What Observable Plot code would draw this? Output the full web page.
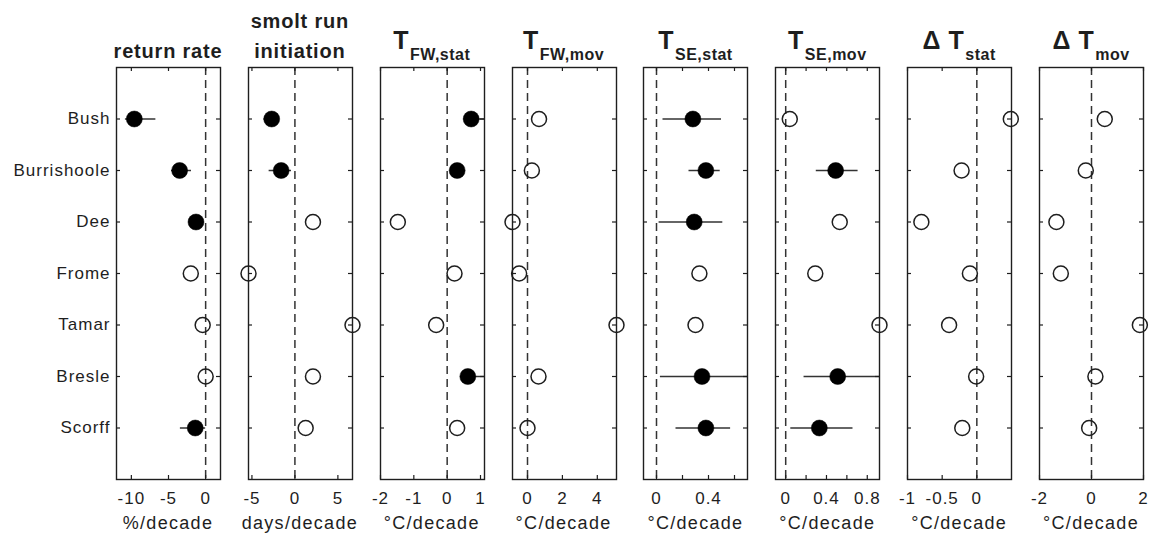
<!DOCTYPE html>
<html>
<head>
<meta charset="utf-8">
<script src="https://cdn.jsdelivr.net/npm/d3@7"></script>
<script src="https://cdn.jsdelivr.net/npm/@observablehq/plot@0.6"></script>
<style>
  html, body { margin: 0; padding: 0; background: #fff; }
  #wrap { position: relative; width: 1151px; height: 534px; overflow: hidden; }
  #wrap > svg { position: absolute; top: 0; }
</style>
</head>
<body>
<div id="wrap"></div>
<script>
// ---- data ----
const rivers = ["Bush", "Burrishoole", "Dee", "Frome", "Tamar", "Bresle", "Scorff"];

const returnRate    = [-9.6, -3.5, -1.3, -2.0, -0.4, 0.0, -1.4];
const returnRateSig = [1, 1, 1, 0, 0, 0, 1];
const returnRateLo  = [-10.8, -4.6, -1.8, null, null, null, -3.4];
const returnRateHi  = [-6.7, -1.9, -0.9, null, null, null, 0.0];

const smoltRun    = [-2.7, -1.6, 2.1, -5.4, 6.7, 2.1, 1.25];
const smoltRunSig = [1, 1, 0, 0, 0, 0, 0];
const smoltRunLo  = [-3.6, -3.0, null, null, null, null, null];
const smoltRunHi  = [-1.8, -0.4, null, null, null, null, null];

const tfwStat    = [0.72, 0.30, -1.48, 0.22, -0.33, 0.62, 0.30];
const tfwStatSig = [1, 1, 0, 0, 0, 1, 0];
const tfwStatLo  = [0.50, 0.18, null, null, null, 0.45, null];
const tfwStatHi  = [1.12, 0.42, null, null, null, 1.12, null];

const tfwMov    = [0.66, 0.25, -0.86, -0.48, 5.1, 0.63, 0.0];
const tfwMovSig = [0, 0, 0, 0, 0, 0, 0];

const tseStat    = [0.28, 0.38, 0.29, 0.33, 0.30, 0.35, 0.38];
const tseStatSig = [1, 1, 1, 0, 0, 1, 1];
const tseStatLo  = [0.05, 0.25, 0.02, null, null, 0.03, 0.15];
const tseStatHi  = [0.50, 0.49, 0.51, null, null, 0.70, 0.57];

const tseMov    = [0.04, 0.49, 0.53, 0.29, 0.92, 0.51, 0.33];
const tseMovSig = [0, 1, 0, 0, 0, 1, 1];
const tseMovLo  = [null, 0.30, null, null, null, 0.18, 0.05];
const tseMovHi  = [null, 0.71, null, null, null, 0.92, 0.66];

const dtStat    = [0.49, -0.22, -0.80, -0.10, -0.40, -0.01, -0.21];
const dtStatSig = [0, 0, 0, 0, 0, 0, 0];

const dtMov    = [0.51, -0.22, -1.35, -1.18, 1.86, 0.15, -0.09];
const dtMovSig = [0, 0, 0, 0, 0, 0, 0];

// panel definitions (titles, units, domains, ticks)
const panels = [
  {title: [["return rate"]], unit: "%/decade", v: returnRate, sig: returnRateSig, lo: returnRateLo, hi: returnRateHi,
   domain: [-12, 2], ticks: [-10, -5, 0], labels: [-10, -5, 0]},
  {title: [["smolt run"], ["initiation"]], unit: "days/decade", v: smoltRun, sig: smoltRunSig, lo: smoltRunLo, hi: smoltRunHi,
   domain: [-5.4, 6.7], ticks: [-5, 0, 5], labels: [-5, 0, 5]},
  {title: "T|FW,stat", unit: "°C/decade", v: tfwStat, sig: tfwStatSig, lo: tfwStatLo, hi: tfwStatHi,
   domain: [-2, 1.12], ticks: [-2, -1, 0, 1], labels: [-2, -1, 0, 1]},
  {title: "T|FW,mov", unit: "°C/decade", v: tfwMov, sig: tfwMovSig,
   domain: [-0.86, 5.1], ticks: [0, 2, 4], labels: [0, 2, 4]},
  {title: "T|SE,stat", unit: "°C/decade", v: tseStat, sig: tseStatSig, lo: tseStatLo, hi: tseStatHi,
   domain: [-0.1, 0.7], ticks: [0, 0.2, 0.4, 0.6], labels: [0, 0.4]},
  {title: "T|SE,mov", unit: "°C/decade", v: tseMov, sig: tseMovSig, lo: tseMovLo, hi: tseMovHi,
   domain: [-0.1, 0.92], ticks: [0, 0.2, 0.4, 0.6, 0.8], labels: [0, 0.4, 0.8]},
  {title: "Δ T|stat", unit: "°C/decade", v: dtStat, sig: dtStatSig,
   domain: [-1, 0.5], ticks: [-1, -0.5, 0], labels: [-1, -0.5, 0]},
  {title: "Δ T|mov", unit: "°C/decade", v: dtMov, sig: dtMovSig,
   domain: [-2, 2], ticks: [-2, 0, 2], labels: [-2, 0, 2]}
];

// ---- layout ----
const W = 1151, H = 534;
const firstLeft = 116, step = 131.86, pw = 104;
const mTop = 67, mBottom = 55;
const frameH = H - mTop - mBottom;
const ink = "#1e1e1e";
const font = "'Liberation Sans', Arial, sans-serif";

const wrap = document.getElementById("wrap");
const rows = rivers.map((_, j) => j + 1);

panels.forEach((p, i) => {
  const left = firstLeft + step * i;
  const ml = i === 0 ? left : 26;
  const mr = 26;
  const data = rivers.map((r, j) => ({
    river: r, row: j + 1, v: p.v[j], sig: p.sig[j],
    lo: p.lo ? p.lo[j] : null, hi: p.hi ? p.hi[j] : null
  }));
  const marks = [
    Plot.ruleX([0], {stroke: "#333", strokeWidth: 1.5, strokeDasharray: "8,5"}),
    Plot.ruleY(data.filter(d => d.sig && d.lo != null), {y: "row", x1: "lo", x2: "hi", stroke: "#333", strokeWidth: 1.5, clip: true}),
    Plot.dot(data.filter(d => !d.sig), {x: "v", y: "row", r: 7.5, fill: "none", stroke: ink, strokeWidth: 1.5}),
    Plot.dot(data.filter(d => d.sig), {x: "v", y: "row", r: 8, fill: "#000", stroke: "#000", strokeWidth: 0.5}),
    // inward ticks on all four sides
    Plot.tickX(p.ticks, {x: d => d, insetBottom: frameH - 4, stroke: ink, strokeWidth: 1.2}),
    Plot.tickX(p.ticks, {x: d => d, insetTop: frameH - 4, stroke: ink, strokeWidth: 1.2}),
    Plot.tickY(rows, {y: d => d, insetRight: pw - 4, stroke: ink, strokeWidth: 1.2}),
    Plot.tickY(rows, {y: d => d, insetLeft: pw - 4, stroke: ink, strokeWidth: 1.2}),
    Plot.frame({stroke: ink, strokeWidth: 1.4}),
    Plot.axisX({anchor: "bottom", ticks: p.labels, tickSize: 0, tickPadding: 12, tickFormat: d => String(d), label: null})
  ];
  if (i === 0) {
    marks.push(Plot.axisY({anchor: "left", ticks: rows, tickSize: 0, tickPadding: 6, tickFormat: d => rivers[d - 1], label: null}));
  }
  const chart = Plot.plot({
    width: ml + pw + mr, height: H,
    marginLeft: ml, marginRight: mr, marginTop: mTop, marginBottom: mBottom,
    x: {domain: p.domain},
    y: {domain: [8, 0], axis: i === 0 ? undefined : null},
    style: {fontFamily: font, fontSize: "17px", color: ink, background: "transparent", letterSpacing: "1px", overflow: "visible"},
    marks
  });
  chart.style.left = (left - ml) + "px";
  wrap.appendChild(chart);
});

// ---- titles and unit labels ----
const svg = d3.select(wrap).append("svg")
  .attr("width", W).attr("height", H)
  .style("left", "0px").style("pointer-events", "none")
  .attr("font-family", font).attr("fill", ink);

panels.forEach((p, i) => {
  const cx = firstLeft + step * i + pw / 2;
  if (Array.isArray(p.title)) {
    const lines = p.title;
    lines.forEach((ln, k) => {
      svg.append("text")
        .attr("x", cx).attr("y", 58 - (lines.length - 1 - k) * 30)
        .attr("text-anchor", "middle").attr("font-weight", "bold")
        .attr("font-size", 20).attr("letter-spacing", "0.8px")
        .text(ln[0]);
    });
  } else {
    const [main, sub] = p.title.split("|");
    const t = svg.append("text")
      .attr("x", cx).attr("y", 49)
      .attr("text-anchor", "middle").attr("font-weight", "bold")
      .attr("letter-spacing", "0.5px");
    t.append("tspan").attr("font-size", 25).text(main);
    t.append("tspan").attr("font-size", 16).attr("dx", 1).attr("dy", 11).text(sub);
  }
  svg.append("text")
    .attr("x", cx).attr("y", 529)
    .attr("text-anchor", "middle").attr("font-size", 18)
    .attr("letter-spacing", "1.3px")
    .text(p.unit);
});
</script>
</body>
</html>
